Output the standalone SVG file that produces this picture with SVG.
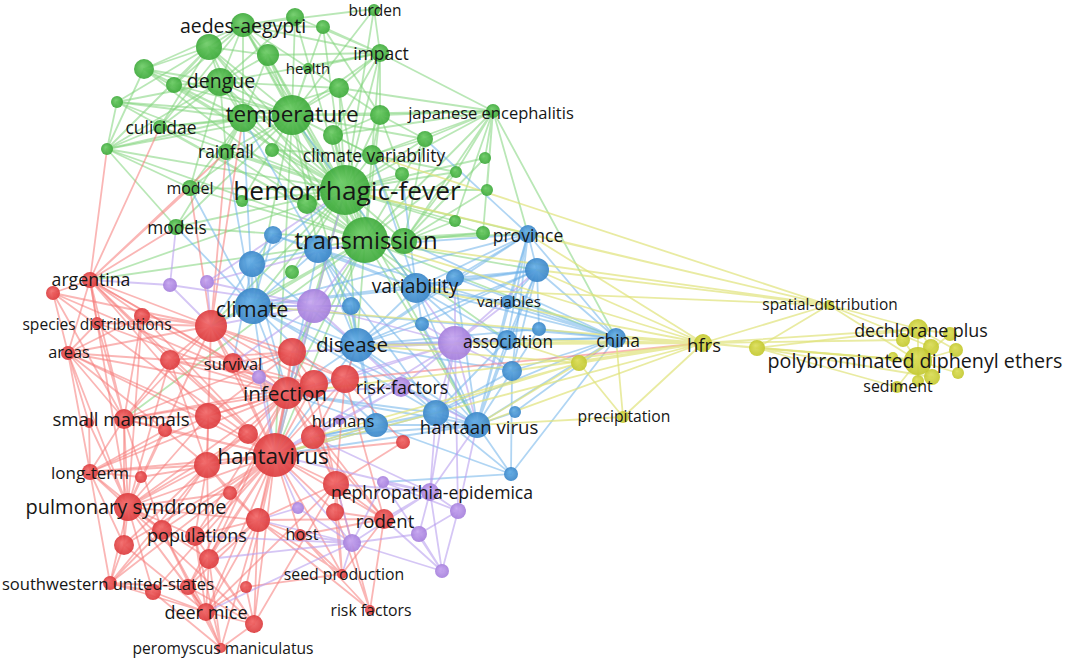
<svg xmlns="http://www.w3.org/2000/svg" width="1065" height="659" viewBox="0 0 1065 659">
<defs>
<style>
.e path{fill:none;stroke-width:1.8;stroke-linecap:round}
.eg{stroke:#7fd47a;stroke-opacity:.55}
.eb{stroke:#6fb2ea;stroke-opacity:.55}
.er{stroke:#f57a78;stroke-opacity:.55}
.ep{stroke:#b9a0ee;stroke-opacity:.6}
.ey{stroke:#dfe27a;stroke-opacity:.7}
.ng{fill:url(#gg);opacity:.92}
.nb{fill:url(#gb);opacity:.92}
.nr{fill:url(#gr);opacity:.92}
.np{fill:url(#gp);opacity:.92}
.ny{fill:url(#gy);opacity:.92}
text{font-family:"Open Sans","Noto Sans","DejaVu Sans",sans-serif;fill:#161616;text-anchor:middle;dominant-baseline:central}
</style>
<radialGradient id="gg" fx="0.4" fy="0.35"><stop offset="0" stop-color="#6dcc66"/><stop offset="1" stop-color="#3eaa3b"/></radialGradient>
<radialGradient id="gb" fx="0.4" fy="0.35"><stop offset="0" stop-color="#64aee6"/><stop offset="1" stop-color="#3a86c8"/></radialGradient>
<radialGradient id="gr" fx="0.4" fy="0.35"><stop offset="0" stop-color="#f26a6a"/><stop offset="1" stop-color="#dc3c3e"/></radialGradient>
<radialGradient id="gp" fx="0.4" fy="0.35"><stop offset="0" stop-color="#c7a6f0"/><stop offset="1" stop-color="#a57fdc"/></radialGradient>
<radialGradient id="gy" fx="0.4" fy="0.35"><stop offset="0" stop-color="#dcde5a"/><stop offset="1" stop-color="#c3c82e"/></radialGradient>
</defs>
<rect width="1065" height="659" fill="#fff"/>
<g id="connectors" class="e">
<g class="eg">
<path d="M345 190L243 25M345 190L209 47M345 190L295 17M345 190L323 27M345 190L268 55M345 190L220 82M345 190L144 69M345 190L174 85M345 190L339 88M345 190L117 102M345 190L243 118M345 190L292 115M345 190L160 127M345 190L333 135M345 190L226 152M345 190L272 150M345 190L107 149M345 190L372 155M345 190L380 115M345 190L380 53M345 190L374 9M345 190L493 111M345 190L425 139M345 190L485 158M345 190L456 172M345 190L487 190M345 190L402 174M345 190L190 188M345 190L242 201M345 190L307 204M345 190L455 221M345 190L176 227M345 190L365 240M345 190L404 241M345 190L483 233M345 190L292 272M345 190L253 306M345 190L357 345M345 190L416 288M345 190L275 455M345 190L287 393M345 190L477 425M345 190L314 306M345 190L211 326M345 190L528 234M345 190L90 280"/>
<path d="M365 240L243 25M365 240L209 47M365 240L268 55M365 240L220 82M365 240L144 69M365 240L339 88M365 240L243 118M365 240L292 115M365 240L160 127M365 240L333 135M365 240L226 152M365 240L372 155M365 240L380 115M365 240L380 53M365 240L493 111M365 240L425 139M365 240L456 172M365 240L190 188M365 240L176 227M365 240L404 241M365 240L483 233M365 240L117 102M365 240L107 149M365 240L253 306M365 240L416 288M365 240L357 345M365 240L275 455M365 240L287 393M365 240L477 425M365 240L507 340M365 240L537 270M365 240L528 234M365 240L616 338M365 240L292 352M365 240L211 326M365 240L90 280M365 240L124 419"/>
<path d="M292 115L243 25M292 115L209 47M292 115L295 17M292 115L323 27M292 115L268 55M292 115L308 68M292 115L220 82M292 115L144 69M292 115L174 85M292 115L339 88M292 115L117 102M292 115L243 118M292 115L160 127M292 115L333 135M292 115L226 152M292 115L272 150M292 115L107 149M292 115L372 155M292 115L380 115M292 115L380 53M292 115L374 9M292 115L425 139M292 115L190 188M292 115L242 201M292 115L493 111M292 115L176 227M292 115L253 306M292 115L357 345M292 115L275 455M292 115L318 249"/>
<path d="M220 82L243 25M220 82L209 47M220 82L268 55M220 82L144 69M220 82L174 85M220 82L117 102M220 82L243 118M220 82L160 127M220 82L226 152M220 82L107 149M220 82L339 88M220 82L380 53M220 82L190 188M220 82L295 17"/>
<path d="M243 25L209 47M243 25L295 17M243 25L268 55M243 25L144 69M243 25L174 85M243 25L243 118M243 25L160 127M243 25L374 9M243 25L323 27M243 25L339 88M243 25L380 53"/>
<path d="M209 47L144 69M209 47L174 85M209 47L117 102M209 47L243 118M209 47L160 127M209 47L268 55M209 47L107 149"/>
<path d="M243 118L144 69M243 118L174 85M243 118L117 102M243 118L160 127M243 118L226 152M243 118L107 149M243 118L190 188M243 118L339 88M243 118L176 227M243 118L268 55"/>
<path d="M380 53L295 17M380 53L323 27M380 53L268 55M380 53L339 88M380 53L380 115M380 53L374 9M380 53L493 111M380 53L333 135M380 53L308 68"/>
<path d="M493 111L339 88M493 111L380 115M493 111L425 139M493 111L485 158M493 111L456 172M493 111L487 190M493 111L372 155M493 111L455 221M493 111L616 338M493 111L528 234M493 111L333 135M493 111L404 241M493 111L483 233"/>
<path d="M107 149L117 102M107 149L160 127M107 149L176 227M107 149L190 188M107 149L144 69"/>
<path d="M380 115L339 88M380 115L333 135M380 115L372 155M380 115L425 139M380 115L402 174M380 115L323 27"/>
<path d="M372 155L333 135M372 155L425 139M372 155L402 174M372 155L456 172M372 155L404 241M372 155L272 150"/>
<path d="M404 241L425 139M404 241L456 172M404 241L487 190M404 241L455 221M404 241L483 233M404 241L485 158"/>
</g>
<g class="eb">
<path d="M253 306L273 235M253 306L252 264M253 306L318 249M253 306L351 306M253 306L416 288M253 306L357 345M253 306L436 413M253 306L477 425M253 306L376 425M253 306L528 234M253 306L537 270M253 306L211 326M253 306L287 393M253 306L275 455M253 306L243 118M253 306L226 152M253 306L190 188M253 306L176 227M253 306L616 338"/>
<path d="M357 345L318 249M357 345L351 306M357 345L416 288M357 345L455 278M357 345L422 324M357 345L507 340M357 345L512 371M357 345L436 413M357 345L477 425M357 345L376 425M357 345L537 270M357 345L528 234M357 345L275 455M357 345L287 393M357 345L345 379M357 345L252 264M357 345L616 338M357 345L539 329"/>
<path d="M416 288L318 249M416 288L455 278M416 288L537 270M416 288L528 234M416 288L508 302M416 288L422 324M416 288L507 340M416 288L512 371M416 288L616 338M416 288L477 425M416 288L292 115M416 288L372 155M416 288L402 174M416 288L273 235"/>
<path d="M477 425L507 340M477 425L616 338M477 425L512 371M477 425L436 413M477 425L376 425M477 425L515 412M477 425L511 474M477 425L537 270M477 425L528 234M477 425L539 329M477 425L275 455M477 425L287 393M477 425L313 437M477 425L508 302M477 425L422 324M477 425L455 278M477 425L318 249"/>
<path d="M616 338L537 270M616 338L528 234M616 338L508 302M616 338L539 329M616 338L507 340M616 338L512 371M616 338L436 413M616 338L515 412M616 338L511 474M616 338L455 278M616 338L404 241M616 338L318 249"/>
<path d="M528 234L537 270M528 234L455 278M528 234L508 302M528 234L507 340M528 234L318 249M528 234L512 371M528 234L425 139"/>
<path d="M537 270L455 278M537 270L508 302M537 270L507 340M537 270L512 371M537 270L539 329M537 270L422 324"/>
<path d="M436 413L376 425M436 413L512 371M436 413L511 474M436 413L275 455M436 413L313 437M436 413L287 393M436 413L507 340M436 413L318 249"/>
<path d="M511 474L376 425M511 474L512 371M511 474L383 482"/>
<path d="M252 264L273 235M252 264L318 249M252 264L211 326M252 264L287 393M252 264L345 190M252 264L233 363"/>
<path d="M318 249L273 235M318 249L351 306M318 249L275 455M318 249L243 118M376 425L275 455M376 425L287 393M376 425L313 437M376 425L351 306"/>
</g>
<g class="er">
<path d="M275 455L211 326M275 455L170 360M275 455L233 363M275 455L292 352M275 455L314 384M275 455L345 379M275 455L287 393M275 455L208 416M275 455L124 419M275 455L165 430M275 455L313 437M275 455L248 434M275 455L90 472M275 455L141 477M275 455L207 465M275 455L336 484M275 455L230 493M275 455L128 507M275 455L335 512M275 455L258 520M275 455L162 530M275 455L195 536M275 455L124 545M275 455L209 559M275 455L300 535M275 455L110 583M275 455L153 592M275 455L188 587M275 455L246 587M275 455L206 612M275 455L254 624M275 455L384 519M275 455L142 316M275 455L68 353M275 455L90 280M275 455L403 442M275 455L342 574M275 455L53 293"/>
<path d="M287 393L211 326M287 393L170 360M287 393L233 363M287 393L292 352M287 393L314 384M287 393L345 379M287 393L208 416M287 393L124 419M287 393L313 437M287 393L248 434M287 393L207 465M287 393L336 484M287 393L128 507M287 393L258 520M287 393L195 536M287 393L209 559M287 393L90 280M287 393L142 316M287 393L68 353M287 393L90 472M287 393L384 519M287 393L188 587M287 393L97 323M287 393L53 293"/>
<path d="M128 507L124 419M128 507L89 423M128 507L165 430M128 507L90 472M128 507L141 477M128 507L207 465M128 507L230 493M128 507L162 530M128 507L195 536M128 507L124 545M128 507L209 559M128 507L110 583M128 507L153 592M128 507L188 587M128 507L206 612M128 507L208 416M128 507L211 326M128 507L170 360M128 507L90 280M128 507L68 353M128 507L258 520M128 507L254 624M128 507L142 316M128 507L248 434"/>
<path d="M124 419L90 280M124 419L53 293M124 419L142 316M124 419L97 323M124 419L68 353M124 419L170 360M124 419L208 416M124 419L165 430M124 419L90 472M124 419L162 530M124 419L124 545M124 419L211 326M124 419L314 384M124 419L292 352"/>
<path d="M90 280L53 293M90 280L142 316M90 280L97 323M90 280L68 353M90 280L170 360M90 280L211 326M90 280L208 416M90 280L176 227M90 280L190 188M90 280L107 149M90 280L160 127M90 280L226 152M90 280L233 363"/>
<path d="M211 326L142 316M211 326L68 353M211 326L170 360M211 326L233 363M211 326L292 352M211 326L208 416M211 326L207 465M211 326L53 293M211 326L97 323M211 326L314 384M211 326L345 379M211 326L226 152M211 326L243 118M211 326L190 188"/>
<path d="M206 612L110 583M206 612L153 592M206 612L188 587M206 612L246 587M206 612L254 624M206 612L221 648M206 612L195 536M206 612L124 545M206 612L209 559M206 612L258 520M206 612L162 530M206 612L336 484"/>
<path d="M221 648L153 592M221 648L188 587M221 648L254 624M221 648L209 559M221 648L195 536M221 648L258 520M221 648L162 530"/>
<path d="M254 624L188 587M254 624L209 559M254 624L258 520M254 624L195 536M254 624L336 484M254 624L246 587"/>
<path d="M384 519L336 484M384 519L335 512M384 519L313 437M384 519L342 574M384 519L370 610M384 519L300 535M384 519L258 520M384 519L345 379"/>
<path d="M370 610L336 484M370 610L335 512M370 610L300 535M370 610L258 520M342 574L258 520M342 574L335 512M342 574L336 484M342 574L300 535M342 574L246 587"/>
<path d="M68 353L97 323M68 353L170 360M68 353L208 416M68 353L53 293M68 353L142 316M68 353L90 472M68 353L165 430M68 353L89 423"/>
<path d="M90 472L89 423M90 472L141 477M90 472L165 430M90 472L124 545M90 472L110 583M90 472L162 530M90 472L207 465M90 472L208 416"/>
<path d="M110 583L124 545M110 583L153 592M110 583L188 587M110 583L162 530M110 583L207 465"/>
<path d="M207 465L208 416M207 465L165 430M207 465L248 434M207 465L230 493M207 465L258 520M207 465L162 530M207 465L195 536M207 465L124 545M207 465L209 559M207 465L170 360"/>
<path d="M336 484L313 437M336 484L335 512M336 484L258 520M336 484L403 442M336 484L314 384M336 484L345 379M336 484L292 352"/>
<path d="M292 352L233 363M292 352L314 384M292 352L345 379M292 352L208 416M292 352L170 360M314 384L208 416M314 384L170 360M314 384L233 363"/>
<path d="M345 379L703 343M345 379L313 437M345 379L403 442M345 379L357 345"/>
<path d="M258 520L195 536M258 520L209 559M258 520L188 587M258 520L230 493M258 520L300 535"/>
</g>
<g class="ep">
<path d="M455 343L314 306M455 343L401 387M455 343L507 340M455 343L416 288M455 343L357 345M455 343L512 371M455 343L477 425M455 343L436 413M455 343L345 379M455 343L287 393M455 343L430 492M455 343L458 511M455 343L275 455M455 343L422 324M455 343L455 278M455 343L508 302M455 343L537 270M455 343L292 352"/>
<path d="M314 306L253 306M314 306L357 345M314 306L351 306M314 306L292 352M314 306L287 393M314 306L275 455M314 306L207 282M314 306L170 285M314 306L345 190M314 306L365 240M314 306L211 326M314 306L401 387M314 306L233 363"/>
<path d="M430 492L383 482M430 492L458 511M430 492L419 534M430 492L442 571M430 492L352 543M430 492L275 455M430 492L336 484M430 492L477 425M430 492L436 413M430 492L384 519M430 492L313 437"/>
<path d="M352 543L383 482M352 543L419 534M352 543L442 571M352 543L298 508M352 543L275 455M352 543L336 484M352 543L258 520M352 543L300 535M352 543L195 536M352 543L209 559M352 543L206 612M352 543L342 574"/>
<path d="M458 511L419 534M458 511L442 571M458 511L383 482M458 511L477 425M442 571L383 482M442 571L419 534M442 571L384 519"/>
<path d="M170 285L176 227M170 285L211 326M170 285L90 280M207 282L211 326M207 282L365 240M207 282L345 190"/>
<path d="M401 387L275 455M401 387L287 393M401 387L477 425M401 387L340 420M401 387L313 437M259 377L275 455M259 377L287 393M259 377L211 326M298 508L275 455M298 508L258 520"/>
</g>
<g class="ey">
<path d="M703 343L579 363M703 343L623 417M703 343L757 348M703 343L829 305M703 343L918 329M703 343L918 361M703 343L903 340M703 343L616 338M703 343L477 425M703 343L436 413M703 343L357 345M703 343L253 306M703 343L275 455M703 343L416 288M703 343L365 240M703 343L537 270M703 343L528 234M703 343L455 343M703 343L287 393M703 343L507 340M703 343L512 371"/>
<path d="M829 305L757 348M829 305L918 329M829 305L918 361M829 305L931 347M829 305L365 240M829 305L528 234M829 305L345 190M829 305L372 155M829 305L416 288M829 305L537 270"/>
<path d="M918 361L757 348M918 361L918 329M918 361L903 340M918 361L950 334M918 361L931 347M918 361L956 350M918 361L893 357M918 361L932 377M918 361L918 381M918 361L958 373M918 361L897 387"/>
<path d="M918 329L903 340M918 329L950 334M918 329L931 347M918 329L757 348M918 329L956 350M757 348L897 387M757 348L932 377M757 348L918 361"/>
<path d="M579 363L623 417M579 363L477 425M579 363L507 340M579 363L616 338M579 363L357 345M579 363L275 455M579 363L313 437M623 417L616 338M623 417L477 425"/>
</g>
</g>
<g id="nodes">
<g id="n-g2"><circle class="ng" cx="209" cy="47" r="13"/></g>
<g id="n-g3"><circle class="ng" cx="295" cy="17" r="9"/></g>
<g id="n-g4"><circle class="ng" cx="323" cy="27" r="7"/></g>
<g id="n-g5"><circle class="ng" cx="268" cy="55" r="11"/></g>
<g id="n-g8"><circle class="ng" cx="144" cy="69" r="10"/></g>
<g id="n-g9"><circle class="ng" cx="174" cy="85" r="8"/></g>
<g id="n-g10"><circle class="ng" cx="339" cy="88" r="10"/></g>
<g id="n-g11"><circle class="ng" cx="117" cy="102" r="6"/></g>
<g id="n-g12"><circle class="ng" cx="243" cy="118" r="14"/></g>
<g id="n-g15"><circle class="ng" cx="333" cy="135" r="10"/></g>
<g id="n-g17"><circle class="ng" cx="272" cy="150" r="7"/></g>
<g id="n-g18"><circle class="ng" cx="107" cy="149" r="6"/></g>
<g id="n-g20"><circle class="ng" cx="380" cy="115" r="10"/></g>
<g id="n-g24"><circle class="ng" cx="425" cy="139" r="8"/></g>
<g id="n-g25"><circle class="ng" cx="485" cy="158" r="6"/></g>
<g id="n-g26"><circle class="ng" cx="456" cy="172" r="6"/></g>
<g id="n-g27"><circle class="ng" cx="487" cy="190" r="6"/></g>
<g id="n-g28"><circle class="ng" cx="402" cy="174" r="7"/></g>
<g id="n-g31"><circle class="ng" cx="242" cy="201" r="6"/></g>
<g id="n-g32"><circle class="ng" cx="307" cy="204" r="10"/></g>
<g id="n-g33"><circle class="ng" cx="455" cy="221" r="6"/></g>
<g id="n-g36"><circle class="ng" cx="404" cy="241" r="13"/></g>
<g id="n-g37"><circle class="ng" cx="483" cy="233" r="7"/></g>
<g id="n-g38"><circle class="ng" cx="292" cy="272" r="7"/></g>
<g id="n-b1"><circle class="nb" cx="273" cy="235" r="9"/></g>
<g id="n-b2"><circle class="nb" cx="252" cy="264" r="13"/></g>
<g id="n-b3"><circle class="nb" cx="318" cy="249" r="14"/></g>
<g id="n-b5"><circle class="nb" cx="351" cy="306" r="9"/></g>
<g id="n-b7"><circle class="nb" cx="455" cy="278" r="9"/></g>
<g id="n-b8"><circle class="nb" cx="537" cy="270" r="12"/></g>
<g id="n-b11"><circle class="nb" cx="422" cy="324" r="7"/></g>
<g id="n-b12"><circle class="nb" cx="539" cy="329" r="7"/></g>
<g id="n-b16"><circle class="nb" cx="512" cy="371" r="10"/></g>
<g id="n-b17"><circle class="nb" cx="436" cy="413" r="13"/></g>
<g id="n-b19"><circle class="nb" cx="376" cy="425" r="12"/></g>
<g id="n-b20"><circle class="nb" cx="515" cy="412" r="6"/></g>
<g id="n-b21"><circle class="nb" cx="511" cy="474" r="7"/></g>
<g id="n-p1"><circle class="np" cx="314" cy="306" r="17"/></g>
<g id="n-p2"><circle class="np" cx="207" cy="282" r="7"/></g>
<g id="n-p3"><circle class="np" cx="170" cy="285" r="7"/></g>
<g id="n-p4"><circle class="np" cx="455" cy="343" r="17"/></g>
<g id="n-p5"><circle class="np" cx="259" cy="377" r="7"/></g>
<g id="n-p8"><circle class="np" cx="383" cy="482" r="6"/></g>
<g id="n-p10"><circle class="np" cx="458" cy="511" r="8"/></g>
<g id="n-p11"><circle class="np" cx="419" cy="534" r="8"/></g>
<g id="n-p12"><circle class="np" cx="442" cy="571" r="7"/></g>
<g id="n-p13"><circle class="np" cx="352" cy="543" r="9"/></g>
<g id="n-p14"><circle class="np" cx="298" cy="508" r="6"/></g>
<g id="n-r2"><circle class="nr" cx="53" cy="293" r="7"/></g>
<g id="n-r3"><circle class="nr" cx="142" cy="316" r="8"/></g>
<g id="n-r5"><circle class="nr" cx="211" cy="326" r="16"/></g>
<g id="n-r7"><circle class="nr" cx="170" cy="360" r="10"/></g>
<g id="n-r9"><circle class="nr" cx="292" cy="352" r="14"/></g>
<g id="n-r10"><circle class="nr" cx="314" cy="384" r="14"/></g>
<g id="n-r11"><circle class="nr" cx="345" cy="379" r="14"/></g>
<g id="n-r13"><circle class="nr" cx="208" cy="416" r="13"/></g>
<g id="n-r15"><circle class="nr" cx="89" cy="423" r="5"/></g>
<g id="n-r16"><circle class="nr" cx="165" cy="430" r="7"/></g>
<g id="n-r17"><circle class="nr" cx="313" cy="437" r="12"/></g>
<g id="n-r18"><circle class="nr" cx="403" cy="442" r="7"/></g>
<g id="n-r19"><circle class="nr" cx="248" cy="434" r="10"/></g>
<g id="n-r22"><circle class="nr" cx="141" cy="477" r="6"/></g>
<g id="n-r23"><circle class="nr" cx="207" cy="465" r="13"/></g>
<g id="n-r24"><circle class="nr" cx="336" cy="484" r="13"/></g>
<g id="n-r25"><circle class="nr" cx="230" cy="493" r="7"/></g>
<g id="n-r27"><circle class="nr" cx="335" cy="512" r="9"/></g>
<g id="n-r28"><circle class="nr" cx="258" cy="520" r="12"/></g>
<g id="n-r29"><circle class="nr" cx="162" cy="530" r="10"/></g>
<g id="n-r31"><circle class="nr" cx="124" cy="545" r="10"/></g>
<g id="n-r32"><circle class="nr" cx="209" cy="559" r="10"/></g>
<g id="n-r35"><circle class="nr" cx="153" cy="592" r="8"/></g>
<g id="n-r36"><circle class="nr" cx="188" cy="587" r="8"/></g>
<g id="n-r37"><circle class="nr" cx="246" cy="587" r="6"/></g>
<g id="n-r39"><circle class="nr" cx="254" cy="624" r="9"/></g>
<g id="n-y1"><circle class="ny" cx="579" cy="363" r="8"/></g>
<g id="n-y4"><circle class="ny" cx="757" cy="348" r="8"/></g>
<g id="n-y7"><circle class="ny" cx="903" cy="340" r="7"/></g>
<g id="n-y8"><circle class="ny" cx="950" cy="334" r="7"/></g>
<g id="n-y9"><circle class="ny" cx="931" cy="347" r="8"/></g>
<g id="n-y10"><circle class="ny" cx="956" cy="350" r="7"/></g>
<g id="n-y12"><circle class="ny" cx="893" cy="357" r="5"/></g>
<g id="n-y13"><circle class="ny" cx="932" cy="377" r="8"/></g>
<g id="n-y14"><circle class="ny" cx="918" cy="381" r="6"/></g>
<g id="n-y15"><circle class="ny" cx="958" cy="373" r="6"/></g>

<g id="aedes-aegypti"><circle class="ng" cx="243" cy="25" r="12"/><text x="243" y="25" font-size="19.5">aedes-aegypti</text></g>
<g id="burden"><circle class="ng" cx="374" cy="10" r="6"/><text x="375" y="10" font-size="15.5">burden</text></g>
<g id="impact"><circle class="ng" cx="380" cy="53" r="9"/><text x="381" y="53" font-size="17.5">impact</text></g>
<g id="health"><circle class="ng" cx="308" cy="68" r="5"/><text x="308" y="68" font-size="15">health</text></g>
<g id="dengue"><circle class="ng" cx="220" cy="82" r="14"/><text x="221" y="80" font-size="19.5">dengue</text></g>
<g id="temperature"><circle class="ng" cx="292" cy="115" r="20"/><text x="292" y="113" font-size="22.5">temperature</text></g>
<g id="japanese-encephalitis"><circle class="ng" cx="493" cy="111" r="7"/><text x="491" y="112" font-size="16.5">japanese encephalitis</text></g>
<g id="culicidae"><circle class="ng" cx="160" cy="127" r="7"/><text x="161" y="127" font-size="17.5">culicidae</text></g>
<g id="rainfall"><circle class="ng" cx="226" cy="152" r="8"/><text x="226" y="151" font-size="17.3">rainfall</text></g>
<g id="climate-variability"><circle class="ng" cx="372" cy="155" r="10"/><text x="374" y="155" font-size="17.5">climate variability</text></g>
<g id="hemorrhagic-fever"><circle class="ng" cx="345" cy="190" r="25"/><text x="347" y="190" font-size="26.3">hemorrhagic-fever</text></g>
<g id="model"><circle class="ng" cx="190" cy="188" r="8"/><text x="190" y="188" font-size="16">model</text></g>
<g id="models"><circle class="ng" cx="176" cy="227" r="8"/><text x="177" y="227" font-size="17.3">models</text></g>
<g id="transmission"><circle class="ng" cx="365" cy="240" r="23"/><text x="366" y="240" font-size="23.8">transmission</text></g>
<g id="province"><circle class="nb" cx="528" cy="234" r="9"/><text x="528" y="235" font-size="17.5">province</text></g>
<g id="variability"><circle class="nb" cx="416" cy="288" r="15"/><text x="415" y="285" font-size="19.3">variability</text></g>
<g id="variables"><circle class="nb" cx="508" cy="302" r="7"/><text x="509" y="301" font-size="15.3">variables</text></g>
<g id="climate"><circle class="nb" cx="253" cy="306" r="18"/><text x="252" y="308" font-size="21.5">climate</text></g>
<g id="disease"><circle class="nb" cx="357" cy="345" r="17"/><text x="352" y="344" font-size="20.6">disease</text></g>
<g id="association"><circle class="nb" cx="507" cy="340" r="10"/><text x="508" y="341" font-size="17.3">association</text></g>
<g id="china"><circle class="nb" cx="616" cy="338" r="10"/><text x="618" y="340" font-size="17.4">china</text></g>
<g id="hantaan-virus"><circle class="nb" cx="477" cy="425" r="13"/><text x="479" y="426" font-size="18.6">hantaan virus</text></g>
<g id="risk-factors"><circle class="np" cx="401" cy="387" r="10"/><text x="402" y="387" font-size="17.8">risk-factors</text></g>
<g id="humans"><circle class="np" cx="340" cy="420" r="5"/><text x="343" y="420" font-size="16.5">humans</text></g>
<g id="nephropathia-epidemica"><circle class="np" cx="430" cy="492" r="9"/><text x="432" y="492" font-size="17.6">nephropathia-epidemica</text></g>
<g id="argentina"><circle class="nr" cx="90" cy="280" r="8"/><text x="91" y="279" font-size="17.7">argentina</text></g>
<g id="species-distributions"><circle class="nr" cx="97" cy="323" r="6"/><text x="97" y="324" font-size="15.6">species distributions</text></g>
<g id="areas"><circle class="nr" cx="68" cy="353" r="7"/><text x="69" y="352" font-size="16.3">areas</text></g>
<g id="survival"><circle class="nr" cx="233" cy="363" r="10"/><text x="233" y="363" font-size="16.4">survival</text></g>
<g id="infection"><circle class="nr" cx="287" cy="393" r="16"/><text x="285" y="393" font-size="20.7">infection</text></g>
<g id="small-mammals"><circle class="nr" cx="124" cy="419" r="10"/><text x="121" y="418" font-size="18.7">small mammals</text></g>
<g id="hantavirus"><circle class="nr" cx="275" cy="455" r="22"/><text x="273" y="455" font-size="22.6">hantavirus</text></g>
<g id="long-term"><circle class="nr" cx="90" cy="472" r="8"/><text x="90" y="472" font-size="17">long-term</text></g>
<g id="pulmonary-syndrome"><circle class="nr" cx="128" cy="507" r="14"/><text x="126" y="506" font-size="20">pulmonary syndrome</text></g>
<g id="rodent"><circle class="nr" cx="384" cy="519" r="10"/><text x="385" y="520" font-size="18.6">rodent</text></g>
<g id="host"><circle class="nr" cx="300" cy="535" r="6"/><text x="302" y="534" font-size="16">host</text></g>
<g id="populations"><circle class="nr" cx="195" cy="536" r="10"/><text x="197" y="535" font-size="18">populations</text></g>
<g id="seed-production"><circle class="nr" cx="342" cy="574" r="5"/><text x="344" y="574" font-size="15.8">seed production</text></g>
<g id="southwestern-united-states"><circle class="nr" cx="110" cy="583" r="7"/><text x="108" y="583" font-size="16.6">southwestern united-states</text></g>
<g id="deer-mice"><circle class="nr" cx="206" cy="612" r="9"/><text x="206" y="612" font-size="18">deer mice</text></g>
<g id="risk-factors-2"><circle class="nr" cx="370" cy="610" r="5"/><text x="371" y="610" font-size="15.8">risk factors</text></g>
<g id="peromyscus-maniculatus"><circle class="nr" cx="221" cy="648" r="5"/><text x="223" y="648" font-size="15.6">peromyscus maniculatus</text></g>
<g id="precipitation"><circle class="ny" cx="623" cy="417" r="6"/><text x="624" y="416" font-size="15.7">precipitation</text></g>
<g id="hfrs"><circle class="ny" cx="703" cy="343" r="9"/><text x="704" y="344" font-size="18.5">hfrs</text></g>
<g id="spatial-distribution"><circle class="ny" cx="829" cy="305" r="5"/><text x="830" y="304" font-size="15.4">spatial-distribution</text></g>
<g id="dechlorane-plus"><circle class="ny" cx="918" cy="329" r="10"/><text x="921" y="330" font-size="17.9">dechlorane plus</text></g>
<g id="polybrominated-diphenyl-ethers"><circle class="ny" cx="918" cy="361" r="14"/><text x="915" y="360" font-size="19.7">polybrominated diphenyl ethers</text></g>
<g id="sediment"><circle class="ny" cx="897" cy="387" r="6"/><text x="898" y="386" font-size="15.9">sediment</text></g>
</g>
</svg>
